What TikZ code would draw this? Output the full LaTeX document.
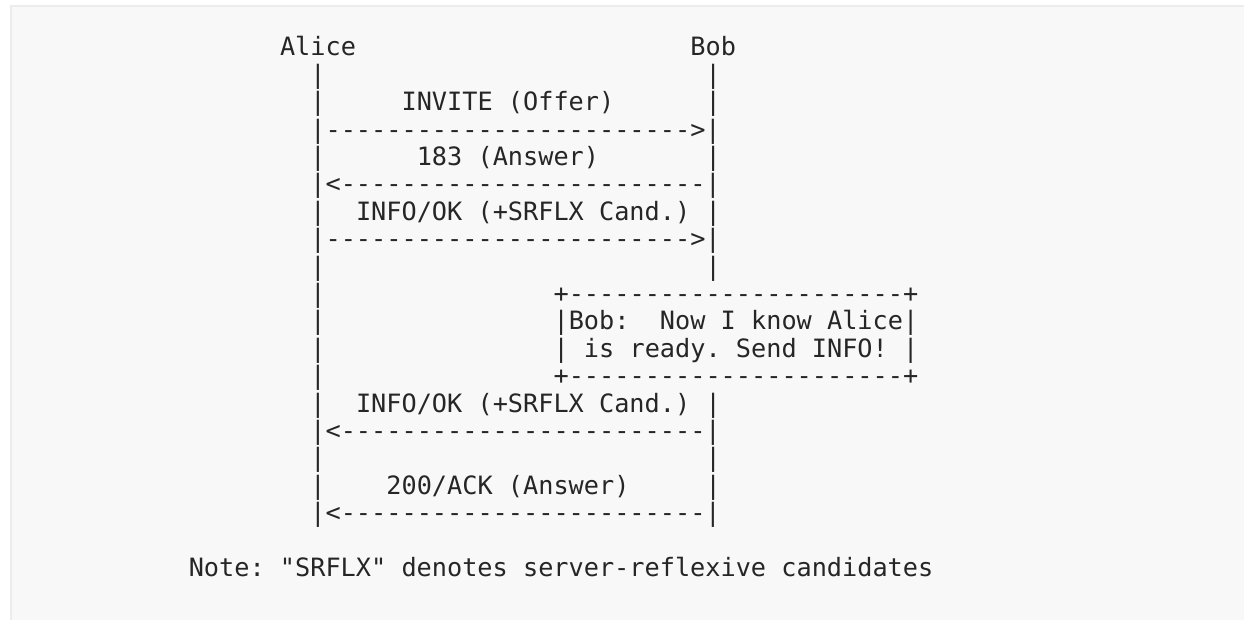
\documentclass[tikz,border=0pt]{standalone}
\usepackage{fontspec}
\setmonofont{DejaVu Sans Mono}
\definecolor{txt}{HTML}{262626}
\definecolor{panel}{HTML}{F8F8F8}
\definecolor{panelline}{HTML}{ECECEC}
\newcommand\cw{15.2}
\newcommand\xo{188.8}
\newcommand\yo{56}
\newcommand\lh{27.4}
\newcommand\asctext[3]{\node[ascii] (L#2C#1) at ({\xo+#1*\cw},{\yo+#2*\lh}) {#3};}
\newcommand\bars[1]{\asctext{8}{#1}{|}\asctext{34}{#1}{|}}
\begin{document}
\begin{tikzpicture}[x=0.5pt,y=-0.5pt,
  ascii/.style={anchor=base west, inner sep=0pt, outer sep=0pt, text=txt,
    font=\ttfamily\frenchspacing\fontsize{12.62pt}{13.7pt}\selectfont}]
\useasboundingbox (0,0) rectangle (1244,620);
\fill[white] (0,0) rectangle (1244,620);
\fill[panel] (10,5) rectangle (1260,640);
\draw[panelline, line width=1pt] (11,640) -- (11,6) -- (1260,6);
% line 0
\asctext{6}{0}{Alice}
\asctext{33}{0}{Bob}
% line 1-8
\bars{1}
\bars{2}\asctext{14}{2}{INVITE (Offer)}
\asctext{8}{3}{|------------------------>|}
\bars{4}\asctext{15}{4}{183 (Answer)}
\asctext{8}{5}{|<------------------------|}
\bars{6}\asctext{11}{6}{INFO/OK (+SRFLX Cand.)}
\asctext{8}{7}{|------------------------>|}
\bars{8}
% box
\asctext{8}{9}{|}\asctext{24}{9}{+----------------------+}
\asctext{8}{10}{|}\asctext{24}{10}{|Bob:\ \ Now I know Alice|}
\asctext{8}{11}{|}\asctext{24}{11}{| is ready. Send INFO! |}
\asctext{8}{12}{|}\asctext{24}{12}{+----------------------+}
% lines 13-17
\bars{13}\asctext{11}{13}{INFO/OK (+SRFLX Cand.)}
\asctext{8}{14}{|<------------------------|}
\bars{15}
\bars{16}\asctext{13}{16}{200/ACK (Answer)}
\asctext{8}{17}{|<------------------------|}
% note
\asctext{0}{19}{Note: "SRFLX" denotes server-reflexive candidates}
\end{tikzpicture}
\end{document}
